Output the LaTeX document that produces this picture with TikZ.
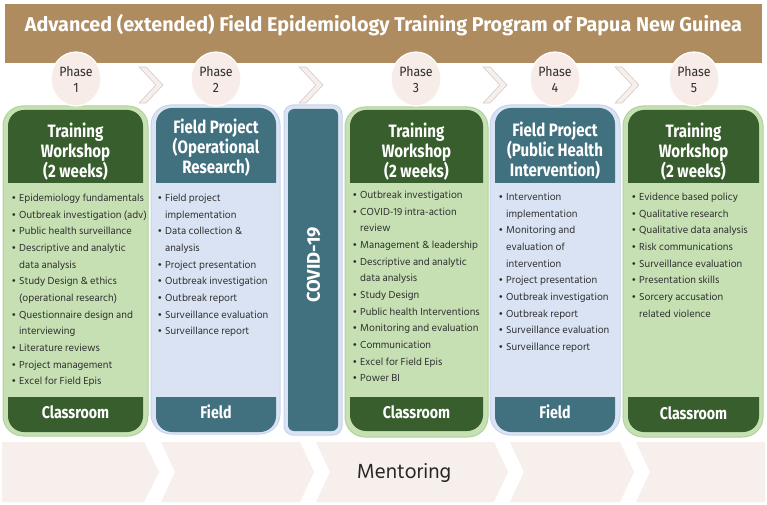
\documentclass[tikz,border=0pt]{standalone}
\usepackage{fontspec}
\usepackage{graphicx}
\setmainfont{Hind Siliguri}
\newfontfamily\bodyf{Hind Siliguri}
\newfontfamily\headf{Fira Sans}[FakeStretch=0.84]
\newfontfamily\covf{Fira Sans}
\newfontfamily\titlef{Fira Sans}
\newfontfamily\phasef{Fira Sans}[FakeStretch=0.92]
\newfontfamily\mentf{Hind Siliguri}
\newfontfamily\dejavuf{DejaVu Sans}
\newcommand\bulit{\makebox[8bp][l]{\raisebox{0bp}{\dejavuf\fontsize{9.5}{9.5}\selectfont •}}}
\newcommand\contl{\hspace*{8bp}}
\definecolor{bandbrown}{HTML}{AE8C5F}
\definecolor{dkgreen}{HTML}{375E2C}
\definecolor{ltgreen}{HTML}{C6E0B4}
\definecolor{grborder}{HTML}{B0D39A}
\definecolor{tealc}{HTML}{41707F}
\definecolor{ltblue}{HTML}{DAE3F3}
\definecolor{blborder}{HTML}{C6D5EE}
\definecolor{pinkband}{HTML}{F7EFEB}
\definecolor{circfill}{HTML}{F7ECE7}
\definecolor{chevfill}{HTML}{F6EFEB}
\definecolor{chevline}{HTML}{D3CCC8}
\definecolor{txtgray}{HTML}{2E2E2E}
\begin{document}
\begin{tikzpicture}[x=1bp,y=-1bp,
  bodytxt/.style={anchor=base west, inner sep=0, font=\bodyf\fontsize{10.5}{12}\selectfont, text=txtgray},
  headtxt/.style={anchor=base, inner sep=0, text=white, font=\headf\bfseries\fontsize{18}{20}\selectfont},
  foottxt/.style={anchor=base, inner sep=0, text=white, font=\headf\bfseries\fontsize{17}{20}\selectfont},
  phasetxt/.style={anchor=base, inner sep=0, text=txtgray, font=\phasef\fontsize{13.5}{15}\selectfont},
  greencard/.style={fill=ltgreen, draw=grborder, line width=1bp, rounded corners=20bp},
  bluecard/.style={fill=ltblue, draw=blborder, line width=1bp, rounded corners=20bp},
  phasecirc/.style={fill=circfill, draw=white, line width=1.2bp},
  chev/.style={fill=chevfill, draw=chevline, line width=0.6bp},
  mentseg/.style={fill=pinkband},
]
\useasboundingbox (0,0) rectangle (767,505);
\fill[white] (0,0) rectangle (767,505);
% title band
\fill[bandbrown] (5,4) rectangle (762,63);
\node[anchor=base, inner sep=0, text=white, font=\titlef\bfseries\fontsize{20}{24}\selectfont] (title) at (383.5,31.5)
  {\resizebox{717bp}{\height}{Advanced (extended) Field Epidemiology Training Program of Papua New Guinea}};
% chevrons between phases
\foreach \cx [count=\k] in {139,299,483,615}{
  \path[chev] (\cx,67) -- (\cx+7,67) -- (\cx+24,85) -- (\cx+7,103) -- (\cx,103) -- (\cx+17,85) -- cycle;
}
% outer cards
\path[greencard] (3,106) rectangle (148,436);
\path[bluecard] (151,105) rectangle (280,434);
\path[bluecard, rounded corners=9bp] (284,105) rectangle (342,435);
\path[greencard] (345,107) rectangle (488,437);
\path[bluecard] (490,105) rectangle (620,435);
\path[greencard] (623,106) rectangle (763,437);
% phase circles
\foreach \px/\n in {76/1,216/2,416/3,555/4,694/5}{
  \path[phasecirc] (\px,79) ellipse [x radius=25, y radius=27];
  \node[phasetxt] (ph\n) at (\px,76.5) {Phase};
  \node[phasetxt] (pn\n) at (\px,92.5) {\n};
}
% headers and footers
\newcommand\hdbox[5]{\fill[#1] (#2,#5) [rounded corners=16bp] -- (#2,#3) -- (#4,#3) [sharp corners] -- (#4,#5) -- cycle;}
\newcommand\ftbox[5]{\fill[#1] (#2,#3) [rounded corners=16bp] -- (#2,#5) -- (#4,#5) [sharp corners] -- (#4,#3) -- cycle;}
\hdbox{dkgreen}{8}{110}{143}{183}
\ftbox{dkgreen}{8}{397}{143}{432}
\hdbox{tealc}{156}{108}{276}{183}
\ftbox{tealc}{156}{397}{276}{432}
\fill[tealc, rounded corners=6bp] (288,109) rectangle (338,431);
\hdbox{dkgreen}{350}{110}{483}{183}
\ftbox{dkgreen}{350}{397}{483}{431}
\hdbox{tealc}{495}{108}{615}{183}
\ftbox{tealc}{495}{397}{615}{432}
\hdbox{dkgreen}{628}{110}{759}{183}
\ftbox{dkgreen}{628}{397}{759}{432}
% header texts
\node[headtxt] (h1a) at (75.5,137.5) {Training};
\node[headtxt] (h1b) at (75.5,157.5) {Workshop};
\node[headtxt] (h1c) at (75.5,177.5) {(2 weeks)};
\node[headtxt] (h2a) at (216,133.5) {Field Project};
\node[headtxt] (h2b) at (216,153.5) {(Operational};
\node[headtxt] (h2c) at (216,173.5) {Research)};
\node[headtxt] (h3a) at (416.5,137.5) {Training};
\node[headtxt] (h3b) at (416.5,157.5) {Workshop};
\node[headtxt] (h3c) at (416.5,177.5) {(2 weeks)};
\node[headtxt] (h4a) at (555,136.5) {Field Project};
\node[headtxt] (h4b) at (555,156.5) {(Public Health};
\node[headtxt] (h4c) at (555,176.5) {Intervention)};
\node[headtxt] (h5a) at (693.5,137.5) {Training};
\node[headtxt] (h5b) at (693.5,157.5) {Workshop};
\node[headtxt] (h5c) at (693.5,177.5) {(2 weeks)};
% footer texts
\node[foottxt] (f1) at (75.5,418) {Classroom};
\node[foottxt] (f2) at (216,418) {Field};
\node[foottxt] (f3) at (416.5,418) {Classroom};
\node[foottxt] (f4) at (555,418) {Field};
\node[foottxt] (f5) at (693.5,419) {Classroom};
\node[inner sep=0, text=white, rotate=90, font=\covf\bfseries\fontsize{18.5}{20}\selectfont] (covid) at (313.5,265) {COVID-19};
% body lists
\foreach \t [count=\i] in {{\bulit Epidemiology fundamentals},{\bulit Outbreak investigation (adv)},{\bulit Public health surveillance},{\bulit Descriptive and analytic},{\contl data analysis},{\bulit Study Design \& ethics},{\contl (operational research)},{\bulit Questionnaire design and},{\contl interviewing},{\bulit Literature reviews},{\bulit Project management},{\bulit Excel for Field Epis}}
  \node[bodytxt] (la\i) at (11,{201.5+(\i-1)*16.67}) {\t};
\foreach \t [count=\i] in {{\bulit Field project},{\contl implementation},{\bulit Data collection \&},{\contl analysis},{\bulit Project presentation},{\bulit Outbreak investigation},{\bulit Outbreak report},{\bulit Surveillance evaluation},{\bulit Surveillance report}}
  \node[bodytxt] (lb\i) at (157,{201.5+(\i-1)*16.67}) {\t};
\foreach \t [count=\i] in {{\bulit Outbreak investigation},{\bulit COVID-19 intra-action},{\contl review},{\bulit Management \& leadership},{\bulit Descriptive and analytic},{\contl data analysis},{\bulit Study Design},{\bulit Public health Interventions},{\bulit Monitoring and evaluation},{\bulit Communication},{\bulit Excel for Field Epis},{\bulit Power BI}}
  \node[bodytxt] (lc\i) at (352,{198.5+(\i-1)*16.67}) {\t};
\foreach \t [count=\i] in {{\bulit Intervention},{\contl implementation},{\bulit Monitoring and},{\contl evaluation of},{\contl intervention},{\bulit Project presentation},{\bulit Outbreak investigation},{\bulit Outbreak report},{\bulit Surveillance evaluation},{\bulit Surveillance report}}
  \node[bodytxt] (ld\i) at (498,{200.5+(\i-1)*16.67}) {\t};
\foreach \t [count=\i] in {{\bulit Evidence based policy},{\bulit Qualitative research},{\bulit Qualitative data analysis},{\bulit Risk communications},{\bulit Surveillance evaluation},{\bulit Presentation skills},{\bulit Sorcery accusation},{\contl related violence}}
  \node[bodytxt] (le\i) at (631,{200.5+(\i-1)*16.67}) {\t};
% mentoring band
\path[mentseg] (2,442) -- (144,442) -- (159,472) -- (144,502) -- (2,502) -- cycle;
\path[mentseg] (161,442) -- (300,442) -- (314,472) -- (300,502) -- (161,502) -- (175,472) -- cycle;
\path[mentseg] (316,442) -- (494,442) -- (508,472) -- (494,502) -- (316,502) -- (330,472) -- cycle;
\path[mentseg] (510,442) -- (620,442) -- (634,472) -- (620,502) -- (510,502) -- (524,472) -- cycle;
\path[mentseg] (636,442) -- (765,442) -- (765,502) -- (636,502) -- (650,472) -- cycle;
\node[anchor=base, inner sep=0, text=black!85, font=\mentf\fontsize{21}{24}\selectfont] (ment) at (404,478) {Mentoring};
\end{tikzpicture}
\end{document}
